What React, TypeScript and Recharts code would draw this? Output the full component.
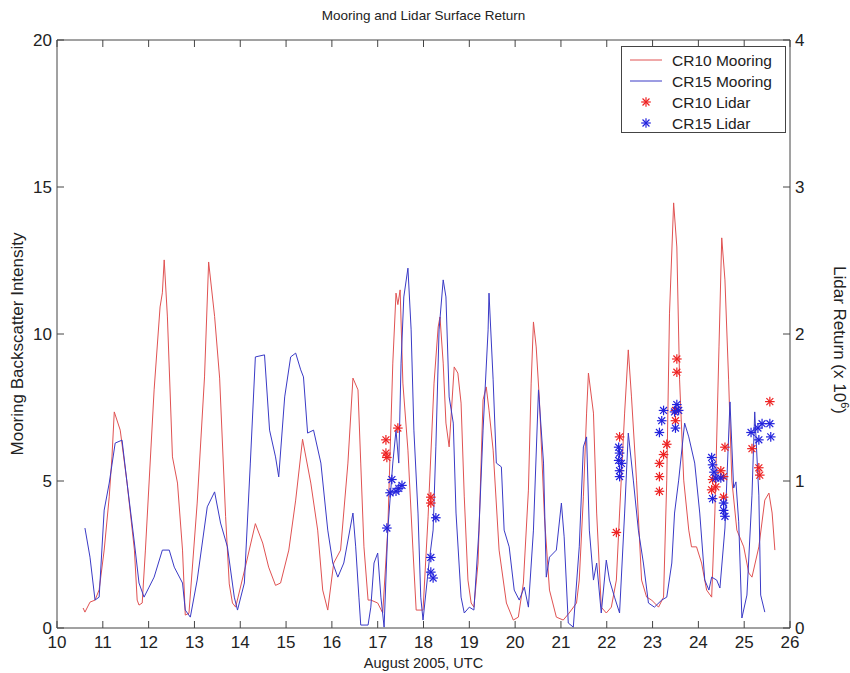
import React from 'react';
import { ComposedChart, Line, Scatter, XAxis, YAxis, Legend, Label } from 'recharts';

const X_TICKS = [10, 11, 12, 13, 14, 15, 16, 17, 18, 19, 20, 21, 22, 23, 24, 25, 26];
const LEFT_TICKS = [0, 5, 10, 15, 20];
const RIGHT_TICKS = [0, 1, 2, 3, 4];

const TITLE = 'Mooring and Lidar Surface Return';
const X_LABEL = 'August 2005, UTC';
const LEFT_LABEL = 'Mooring Backscatter Intensity';
const SERIES_NAMES = ['CR10 Mooring', 'CR15 Mooring', 'CR10 Lidar', 'CR15 Lidar'];

// [day, backscatter intensity]
const CR10_MOORING: [number, number][] = [
  [10.57, 0.68], [10.61, 0.54], [10.72, 0.88], [10.83, 0.95], [10.92, 1.3], [11.03, 2.65], [11.14, 4.46],
  [11.2, 5.82], [11.25, 7.35], [11.38, 6.73], [11.53, 4.93], [11.69, 2.65], [11.75, 0.95], [11.79, 0.78],
  [11.86, 0.85], [11.93, 2.65], [12.12, 8.1], [12.25, 10.92], [12.3, 11.4], [12.34, 12.52], [12.41, 10.58],
  [12.52, 5.82], [12.63, 4.93], [12.74, 2.65], [12.8, 0.44], [12.88, 0.5], [13.06, 4.25], [13.22, 8.54],
  [13.31, 12.45], [13.44, 10.6], [13.55, 8.5], [13.68, 3.8], [13.76, 1.5], [13.83, 0.85], [13.9, 0.71],
  [14.11, 2.07], [14.33, 3.55], [14.49, 2.89], [14.62, 2.07], [14.77, 1.45], [14.88, 1.53], [15.06, 2.65],
  [15.21, 4.35], [15.36, 6.42], [15.54, 4.93], [15.69, 3.33], [15.8, 1.29], [15.91, 0.61], [16.04, 2.21],
  [16.19, 2.65], [16.35, 5.61], [16.46, 8.5], [16.57, 8.1], [16.63, 5.61], [16.7, 2.76], [16.79, 0.95],
  [16.85, 0.95], [17.0, 0.85], [17.11, 0.51], [17.22, 3.33], [17.33, 9.01], [17.4, 11.39], [17.44, 11.0],
  [17.49, 11.5], [17.55, 8.33], [17.66, 6.05], [17.77, 2.65], [17.84, 0.61], [17.99, 0.61], [18.1, 3.78],
  [18.23, 8.33], [18.32, 10.24], [18.36, 10.58], [18.43, 9.01], [18.49, 6.97], [18.56, 6.16], [18.67, 8.88],
  [18.75, 8.67], [18.82, 7.65], [18.89, 4.46], [18.97, 1.63], [19.04, 0.85], [19.1, 0.71], [19.19, 2.21],
  [19.3, 7.76], [19.37, 8.2], [19.43, 7.41], [19.52, 6.05], [19.65, 2.65], [19.81, 0.85], [19.96, 0.27],
  [20.07, 0.37], [20.18, 1.53], [20.29, 4.69], [20.35, 8.33], [20.4, 10.41], [20.46, 9.56], [20.53, 7.76],
  [20.64, 3.78], [20.75, 1.29], [20.9, 0.37], [21.05, 0.27], [21.18, 0.51], [21.34, 0.85], [21.4, 1.63],
  [21.49, 4.46], [21.56, 7.31], [21.6, 8.67], [21.71, 7.31], [21.78, 3.91], [21.88, 0.71], [21.99, 0.51],
  [22.1, 0.71], [22.21, 1.63], [22.28, 3.91], [22.39, 7.31], [22.47, 9.46], [22.54, 7.86], [22.65, 5.03],
  [22.76, 1.63], [22.87, 1.05], [22.98, 0.95], [23.13, 0.71], [23.24, 1.05], [23.31, 5.03], [23.37, 10.71],
  [23.46, 14.46], [23.53, 12.96], [23.59, 8.44], [23.68, 5.03], [23.79, 3.33], [23.85, 2.76], [23.96, 2.76],
  [24.07, 2.21], [24.18, 1.29], [24.29, 1.05], [24.36, 3.91], [24.45, 9.56], [24.51, 13.27], [24.58, 11.84],
  [24.66, 8.44], [24.73, 5.03], [24.84, 3.33], [24.99, 2.76], [25.1, 1.87], [25.17, 1.73], [25.32, 2.76],
  [25.45, 4.35], [25.54, 4.59], [25.61, 3.91], [25.67, 2.65],
];

const CR15_MOORING: [number, number][] = [
  [10.61, 3.4], [10.72, 2.41], [10.83, 0.95], [10.92, 1.05], [11.03, 4.01], [11.14, 4.93], [11.27, 6.29],
  [11.42, 6.39], [11.53, 4.93], [11.69, 2.89], [11.79, 1.53], [11.9, 1.05], [12.01, 1.39], [12.12, 1.73],
  [12.3, 2.65], [12.45, 2.65], [12.56, 2.07], [12.74, 1.53], [12.8, 0.61], [12.91, 0.37], [13.06, 1.63],
  [13.28, 4.12], [13.44, 4.63], [13.57, 3.57], [13.72, 2.76], [13.87, 1.05], [13.94, 0.61], [14.09, 1.53],
  [14.22, 5.61], [14.33, 9.22], [14.53, 9.29], [14.64, 6.73], [14.77, 5.82], [14.84, 5.14], [14.97, 7.86],
  [15.1, 9.22], [15.21, 9.35], [15.32, 8.78], [15.38, 8.54], [15.47, 6.63], [15.6, 6.73], [15.76, 5.61],
  [15.91, 3.33], [16.02, 2.21], [16.13, 1.73], [16.26, 2.21], [16.46, 3.91], [16.52, 2.76], [16.59, 1.05],
  [16.63, 0.1], [16.79, 0.1], [16.85, 0.71], [16.92, 2.21], [17.0, 2.55], [17.07, 1.05], [17.14, 0.03],
  [17.22, 3.33], [17.33, 5.61], [17.4, 6.73], [17.46, 5.61], [17.51, 9.01], [17.57, 11.26], [17.66, 12.24],
  [17.73, 10.14], [17.79, 6.73], [17.88, 3.91], [17.94, 1.05], [17.99, 0.27], [18.12, 2.21], [18.21, 3.33],
  [18.27, 6.16], [18.34, 10.14], [18.43, 11.84], [18.49, 11.26], [18.56, 7.86], [18.65, 6.97], [18.71, 3.91],
  [18.82, 1.05], [18.89, 0.51], [19.0, 0.71], [19.1, 0.61], [19.21, 3.33], [19.3, 6.73], [19.41, 10.14],
  [19.43, 11.39], [19.52, 8.44], [19.59, 5.61], [19.7, 5.48], [19.76, 3.33], [19.87, 2.76], [19.98, 1.29],
  [20.09, 0.95], [20.2, 1.39], [20.29, 0.71], [20.4, 3.33], [20.51, 8.1], [20.62, 5.61], [20.68, 1.73],
  [20.75, 2.41], [20.9, 2.65], [21.01, 4.25], [21.07, 3.1], [21.16, 0.17], [21.27, 0.03], [21.4, 2.76],
  [21.49, 6.16], [21.56, 6.5], [21.62, 3.33], [21.71, 1.63], [21.78, 2.21], [21.88, 0.51], [21.99, 2.31],
  [22.06, 1.63], [22.17, 1.05], [22.28, 0.51], [22.39, 3.91], [22.47, 6.63], [22.58, 5.03], [22.69, 3.33],
  [22.8, 2.21], [22.91, 0.85], [23.04, 0.71], [23.2, 0.95], [23.31, 1.05], [23.42, 2.21], [23.48, 3.91],
  [23.57, 5.03], [23.7, 6.97], [23.79, 6.5], [23.92, 5.61], [24.03, 3.91], [24.14, 1.63], [24.23, 1.29],
  [24.29, 1.73], [24.4, 1.63], [24.47, 1.36], [24.58, 3.4], [24.69, 7.69], [24.77, 4.76], [24.82, 4.97],
  [24.88, 3.61], [24.95, 0.34], [25.06, 1.12], [25.17, 4.52], [25.23, 7.35], [25.32, 4.52], [25.36, 1.12],
  [25.45, 0.54],
];

// [day, lidar return (x 10^6)]
const CR10_LIDAR: [number, number][] = [
  [17.18, 1.28], [17.18, 1.19], [17.2, 1.16], [17.44, 1.36], [18.16, 0.89], [18.16, 0.85],
  [22.21, 0.65], [22.28, 1.3], [23.15, 1.12], [23.15, 1.03], [23.15, 0.93], [23.24, 1.18], [23.31, 1.25],
  [23.53, 1.83], [23.53, 1.74], [23.5, 1.48], [23.5, 1.41], [24.31, 1.01], [24.38, 0.96], [24.49, 1.07],
  [24.55, 1.03], [24.58, 1.23], [24.55, 0.89], [24.29, 0.94], [25.17, 1.22], [25.32, 1.09], [25.34, 1.04],
  [25.56, 1.54],
];

const CR15_LIDAR: [number, number][] = [
  [17.2, 0.68], [17.31, 1.01], [17.27, 0.92], [17.4, 0.93], [17.46, 0.95], [17.53, 0.97],
  [18.16, 0.48], [18.16, 0.38], [18.21, 0.34], [18.27, 0.75],
  [22.26, 1.23], [22.28, 1.19], [22.26, 1.14], [22.32, 1.12], [22.28, 1.07], [22.28, 1.03],
  [23.24, 1.48], [23.2, 1.41], [23.15, 1.33], [23.53, 1.52], [23.57, 1.48], [23.5, 1.36], [23.48, 1.47],
  [24.29, 1.16], [24.31, 1.11], [24.34, 1.06], [24.38, 1.02], [24.49, 1.02], [24.31, 0.88], [24.55, 0.85],
  [24.55, 0.8], [24.58, 0.76],
  [25.15, 1.33], [25.3, 1.36], [25.32, 1.28], [25.39, 1.39], [25.56, 1.39], [25.58, 1.3],
];

const toRows = (pairs: [number, number][]) => pairs.map(([x, y]) => ({ x, y }));

const RED_LINE = '#e05252';
const BLUE_LINE = '#3a3ac6';
const RED_STAR = '#ee2222';
const BLUE_STAR = '#2222dd';
const AXIS = '#444';
const FONT = '"Liberation Sans", Arial, sans-serif';

const Asterisk = ({ cx, cy, color }: { cx: number; cy: number; color: string }) => {
  const r = 4.8;
  const d = r * 0.72;
  return (
    <g stroke={color} strokeWidth={1.2}>
      <line x1={cx - r} y1={cy} x2={cx + r} y2={cy} />
      <line x1={cx} y1={cy - r} x2={cx} y2={cy + r} />
      <line x1={cx - d} y1={cy - d} x2={cx + d} y2={cy + d} />
      <line x1={cx - d} y1={cy + d} x2={cx + d} y2={cy - d} />
    </g>
  );
};

const LegendBox = () => {
  const rows = [13, 34, 55, 76];
  return (
    <div style={{ width: 165, height: 87, border: `1px solid ${AXIS}`, background: '#fff', boxSizing: 'border-box' }}>
      <svg width={163} height={85} style={{ display: 'block' }}>
        <line x1={8} x2={40} y1={rows[0]} y2={rows[0]} stroke={RED_LINE} strokeWidth={1} />
        <line x1={8} x2={40} y1={rows[1]} y2={rows[1]} stroke={BLUE_LINE} strokeWidth={1} />
        <Asterisk cx={24} cy={rows[2]} color={RED_STAR} />
        <Asterisk cx={24} cy={rows[3]} color={BLUE_STAR} />
        {SERIES_NAMES.map((n, i) => (
          <text key={n} x={50} y={rows[i]} dominantBaseline="central" fontFamily={FONT} fontSize={15.5} fill="#222">
            {n}
          </text>
        ))}
      </svg>
    </div>
  );
};

export default function App() {
  return (
    <div style={{ position: 'absolute', left: 0, top: 0, width: 850, height: 673, background: '#fff' }}>
      <div
        style={{
          position: 'absolute', left: 57, width: 733, top: 8, textAlign: 'center', lineHeight: '16px',
          fontFamily: FONT, fontSize: 13.5, color: '#222', zIndex: 2,
        }}
      >
        {TITLE}
      </div>
      <ComposedChart
        width={850}
        height={673}
        margin={{ top: 35, right: 20, bottom: 15, left: 17 }}
        style={{ fontFamily: FONT }}
      >
        <XAxis
          xAxisId="bottom"
          dataKey="x"
          type="number"
          domain={[10, 26]}
          ticks={X_TICKS}
          allowDataOverflow
          height={30}
          tickSize={-7}
          tickMargin={15}
          stroke={AXIS}
          tick={{ fill: '#222', fontSize: 17, fontFamily: FONT }}
        >
          <Label
            content={(props: any) => {
              const vb = props.viewBox;
              return (
                <text x={vb.x + vb.width / 2} y={vb.y + 35} textAnchor="middle" dominantBaseline="central"
                  fontFamily={FONT} fontSize={14.5} fill="#222">
                  {X_LABEL}
                </text>
              );
            }}
          />
        </XAxis>
        <XAxis
          xAxisId="top"
          orientation="top"
          dataKey="x"
          type="number"
          domain={[10, 26]}
          ticks={X_TICKS}
          allowDataOverflow
          height={5}
          tickSize={-7}
          tickFormatter={() => ''}
          stroke={AXIS}
        />
        <YAxis
          yAxisId="left"
          dataKey="y"
          type="number"
          domain={[0, 20]}
          ticks={LEFT_TICKS}
          allowDataOverflow
          width={40}
          tickSize={-7}
          tickMargin={12}
          stroke={AXIS}
          tick={{ fill: '#222', fontSize: 17, fontFamily: FONT }}
        >
          <Label
            content={(props: any) => {
              const vb = props.viewBox;
              const cx = vb.x;
              const cy = vb.y + vb.height / 2 + 10;
              return (
                <text x={cx} y={cy} transform={`rotate(-90 ${cx} ${cy})`} textAnchor="middle" dominantBaseline="central"
                  fontFamily={FONT} fontSize={17} fill="#222">
                  {LEFT_LABEL}
                </text>
              );
            }}
          />
        </YAxis>
        <YAxis
          yAxisId="right"
          orientation="right"
          dataKey="y"
          type="number"
          domain={[0, 4]}
          ticks={RIGHT_TICKS}
          allowDataOverflow
          width={40}
          tickSize={-7}
          tickMargin={12}
          stroke={AXIS}
          tick={{ fill: '#222', fontSize: 17, fontFamily: FONT }}
        >
          <Label
            content={(props: any) => {
              const vb = props.viewBox;
              const cx = vb.x + 50;
              const cy = vb.y + vb.height / 2 + 6;
              return (
                <text x={cx} y={cy} transform={`rotate(90 ${cx} ${cy})`} textAnchor="middle" dominantBaseline="central"
                  fontFamily={FONT} fontSize={17} fill="#222">
                  <tspan>Lidar Return (x 10</tspan>
                  <tspan dy={-5} fontSize={11}>6</tspan>
                  <tspan dy={5}>)</tspan>
                </text>
              );
            }}
          />
        </YAxis>
        <Line
          xAxisId="bottom"
          yAxisId="left"
          data={toRows(CR10_MOORING)}
          dataKey="y"
          name={SERIES_NAMES[0]}
          stroke={RED_LINE}
          strokeWidth={1}
          dot={false}
          activeDot={false}
          type="linear"
          isAnimationActive={false}
        />
        <Line
          xAxisId="bottom"
          yAxisId="left"
          data={toRows(CR15_MOORING)}
          dataKey="y"
          name={SERIES_NAMES[1]}
          stroke={BLUE_LINE}
          strokeWidth={1}
          dot={false}
          activeDot={false}
          type="linear"
          isAnimationActive={false}
        />
        <Scatter
          xAxisId="bottom"
          yAxisId="right"
          data={toRows(CR10_LIDAR)}
          dataKey="y"
          name={SERIES_NAMES[2]}
          isAnimationActive={false}
          shape={(p: any) => <Asterisk cx={p.cx} cy={p.cy} color={RED_STAR} />}
        />
        <Scatter
          xAxisId="bottom"
          yAxisId="right"
          data={toRows(CR15_LIDAR)}
          dataKey="y"
          name={SERIES_NAMES[3]}
          isAnimationActive={false}
          shape={(p: any) => <Asterisk cx={p.cx} cy={p.cy} color={BLUE_STAR} />}
        />
        <Legend
          layout="vertical"
          align="center"
          verticalAlign="middle"
          content={() => <LegendBox />}
          wrapperStyle={{ position: 'absolute', left: 621, top: 46, width: 165, height: 87 }}
        />
      </ComposedChart>
    </div>
  );
}
